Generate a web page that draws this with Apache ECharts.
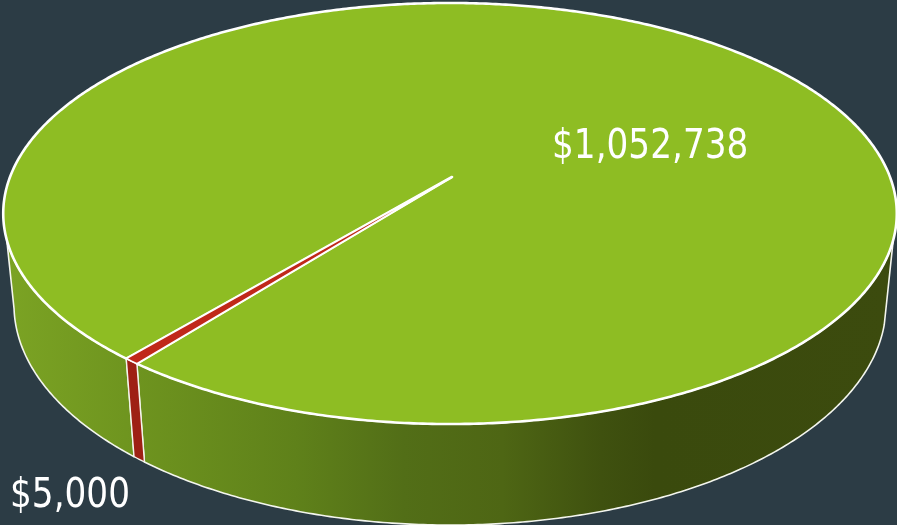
<!DOCTYPE html>
<html>
<head>
<meta charset="utf-8">
<style>html,body{margin:0;padding:0;background:#2c3c45;overflow:hidden}#c{width:897px;height:525px}</style>
<script src="https://cdn.jsdelivr.net/npm/echarts@6/dist/echarts.min.js"></script>
</head>
<body>
<div id="c"></div>
<script>
const categories = ['Small', 'Large'];
const sliceValues = [5000, 1052738];
const valueLabels = ['$5,000', '$1,052,738'];
const topColors = ['#c0281a', '#8ebd23'];
const wallColors = [
  '#9e2014',
  [[0, '#7ca424'], [0.14, '#6f951f'], [0.33, '#5f811a'], [0.45, '#526e17'], [0.56, '#4e6614'], [0.67, '#3f510f'], [0.73, '#3a4a0d'], [1, '#3c4b0e']]
];

// projection of the disc (perspective tilt), in pixels
const disc = { cx: 450, cy: 177, R: 440, S: 204.2, k: 0.1734 };
const base = { cx: 450, cy: 266.9, R: 429.4, S: 213.4, k: 0.1734 };
const apex = [452, 177];
const startAngle = 127.9;
const topLimit = [17, 163], baseLimit = [15, 169];

const total = sliceValues.reduce((a, b) => a + b, 0);
let acc = startAngle;
const spans = sliceValues.map(v => { const a = acc; acc += v / total * 360; return [a, acc]; });

function pt(d, deg) {
  const t = deg * Math.PI / 180, u = Math.cos(t), v = Math.sin(t), w = 1 - d.k * v;
  return [d.cx + d.R * u / w, d.cy + d.S * v / w];
}
function arc(d, a, b) {
  const out = [], n = Math.max(1, Math.ceil(Math.abs(b - a) / 0.5));
  for (let i = 0; i <= n; i++) out.push(pt(d, a + (b - a) * i / n));
  return out;
}
function wallFill(i) {
  const c = wallColors[i];
  if (typeof c === 'string') return c;
  return { type: 'linear', x: 0, y: 0, x2: 897, y2: 0, global: true,
           colorStops: c.map(s => ({ offset: s[0], color: s[1] })) };
}
function renderWall(params) {
  const i = params.dataIndex, sp = spans[i], kids = [];
  for (const n of [0, 1]) {
    const off = 360 * n;
    const t0 = Math.max(sp[0], topLimit[0] + off), t1 = Math.min(sp[1], topLimit[1] + off);
    const b0 = Math.max(sp[0], baseLimit[0] + off), b1 = Math.min(sp[1], baseLimit[1] + off);
    if (t1 <= t0) continue;
    const pts = arc(disc, t0, t1).concat(arc(base, b0, b1).reverse());
    kids.push({ type: 'polygon', z2: i === 0 ? 2 : 1, shape: { points: pts },
      style: { fill: wallFill(i), stroke: '#f4f6ee', lineWidth: i === 0 ? 1.3 : 1.6, lineJoin: 'round' } });
  }
  return { type: 'group', children: kids };
}
function renderTop(params) {
  const i = params.dataIndex, sp = spans[i];
  const pts = [apex].concat(arc(disc, sp[0], sp[1]));
  return { type: 'polygon', z2: i === 0 ? 2 : 1, shape: { points: pts },
    style: { fill: topColors[i], stroke: '#ffffff', lineWidth: i === 0 ? 1.7 : 2.6, lineJoin: 'round' } };
}
const labelSpots = [[10, 496], [552, 147]];
function renderLabel(params) {
  const i = params.dataIndex;
  return { type: 'text', x: labelSpots[i][0], y: labelSpots[i][1], scaleX: 0.93,
    style: { text: valueLabels[i], fill: '#ffffff', align: 'left', verticalAlign: 'middle',
             font: '41px "DejaVu Sans Condensed", "DejaVu Sans", sans-serif' } };
}
const rows = categories.map((c, i) => ({ name: c, value: sliceValues[i] }));
const chart = echarts.init(document.getElementById('c'), null, { renderer: 'canvas' });
chart.setOption({
  backgroundColor: '#2c3c45',
  animation: false,
  tooltip: { show: false },
  series: [
    { type: 'custom', coordinateSystem: 'none', renderItem: renderWall, data: rows, silent: true, z: 1 },
    { type: 'custom', coordinateSystem: 'none', renderItem: renderTop, data: rows, silent: true, z: 2 },
    { type: 'custom', coordinateSystem: 'none', renderItem: renderLabel, data: rows, silent: true, z: 3 }
  ]
});
</script>
</body>
</html>
